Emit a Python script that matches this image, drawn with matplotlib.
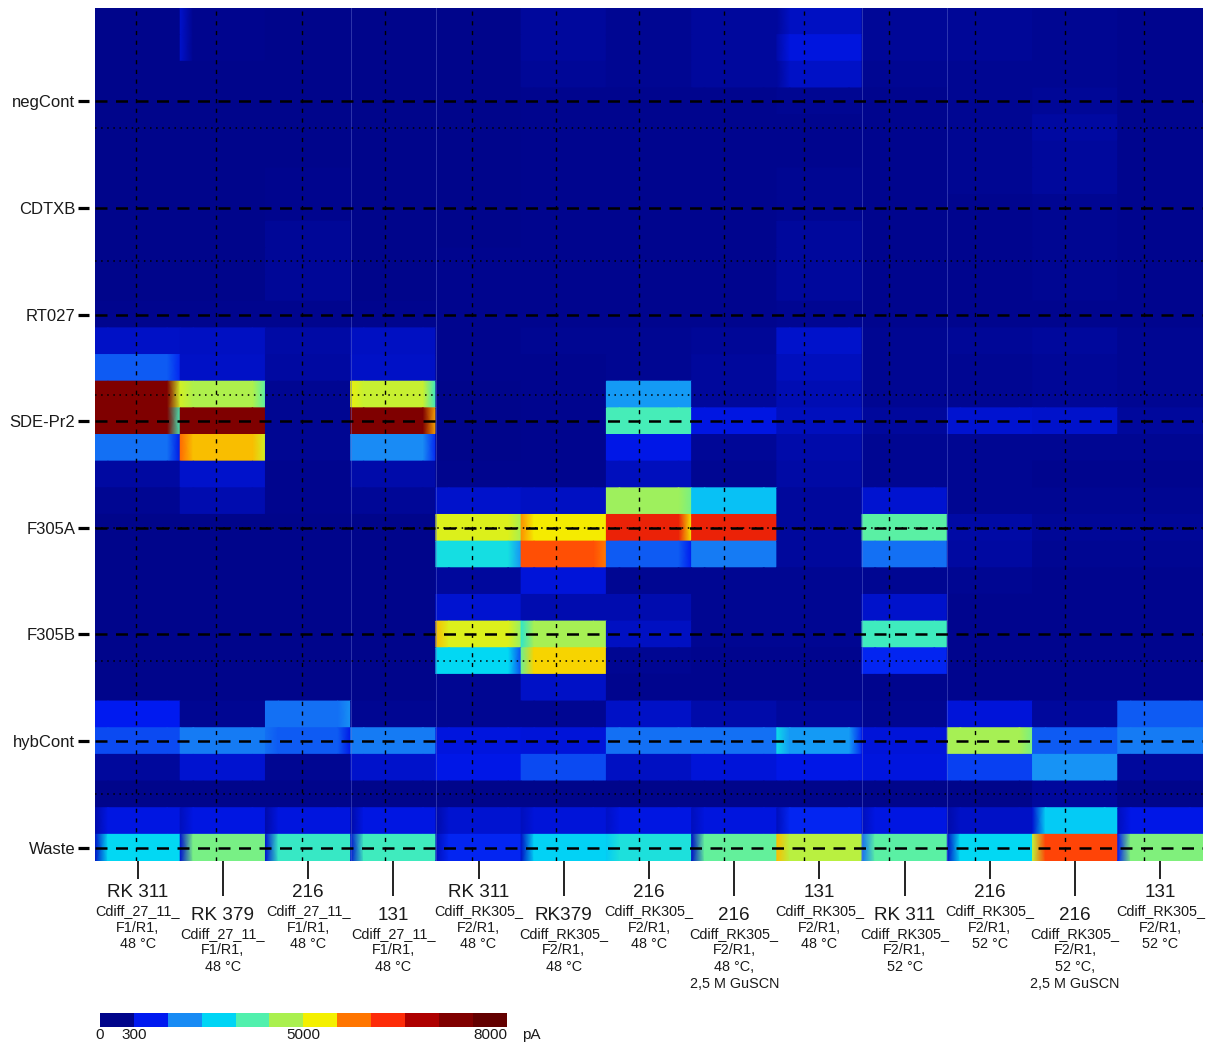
import numpy as np
import matplotlib
matplotlib.use("Agg")
import matplotlib.pyplot as plt
from matplotlib.colors import LinearSegmentedColormap, ListedColormap, FuncNorm
from matplotlib.transforms import blended_transform_factory

plt.rcParams['font.family'] = ['Liberation Sans', 'DejaVu Sans']

# ---------------- data ----------------
row_labels = ["negCont", "CDTXB", "RT027", "SDE-Pr2", "F305A", "F305B", "hybCont", "Waste"]
row_label_rows = [3, 7, 11, 15, 19, 23, 27, 31]
sep_rows = [4, 9, 14, 19, 24, 29]

strains = ["RK 311", "RK 379", "216", "131", "RK 311", "RK379", "216",
           "216", "131", "RK 311", "216", "216", "131"]
conditions = [
    "Cdiff_27_11_\nF1/R1,\n48 °C",
    "Cdiff_27_11_\nF1/R1,\n48 °C",
    "Cdiff_27_11_\nF1/R1,\n48 °C",
    "Cdiff_27_11_\nF1/R1,\n48 °C",
    "Cdiff_RK305_\nF2/R1,\n48 °C",
    "Cdiff_RK305_\nF2/R1,\n48 °C",
    "Cdiff_RK305_\nF2/R1,\n48 °C",
    "Cdiff_RK305_\nF2/R1,\n48 °C,\n2,5 M GuSCN",
    "Cdiff_RK305_\nF2/R1,\n48 °C",
    "Cdiff_RK305_\nF2/R1,\n52 °C",
    "Cdiff_RK305_\nF2/R1,\n52 °C",
    "Cdiff_RK305_\nF2/R1,\n52 °C,\n2,5 M GuSCN",
    "Cdiff_RK305_\nF2/R1,\n52 °C",
]

# signal (pA), 32 spot rows x 13 experiments
signal = [
    [150, 160, 150, 150, 150, 200, 175, 210, 330, 190, 190, 175, 165],
    [150, 160, 150, 150, 150, 200, 175, 210, 600, 190, 190, 175, 165],
    [150, 150, 150, 150, 150, 185, 170, 200, 380, 175, 175, 170, 165],
    [150, 150, 150, 150, 150, 160, 160, 165, 170, 160, 170, 185, 160],
    [150, 150, 150, 150, 150, 160, 160, 160, 160, 160, 170, 220, 160],
    [150, 150, 150, 150, 150, 160, 160, 160, 160, 160, 175, 210, 160],
    [150, 150, 155, 150, 150, 160, 160, 160, 170, 160, 175, 210, 160],
    [150, 150, 160, 150, 150, 160, 160, 160, 180, 160, 160, 170, 160],
    [150, 150, 190, 150, 150, 160, 160, 160, 200, 160, 160, 170, 160],
    [150, 150, 190, 150, 155, 160, 160, 160, 200, 160, 160, 170, 160],
    [150, 150, 190, 150, 155, 160, 160, 160, 200, 160, 160, 170, 160],
    [155, 155, 160, 155, 155, 160, 160, 160, 175, 160, 160, 160, 160],
    [380, 360, 230, 330, 160, 175, 175, 190, 420, 175, 190, 210, 175],
    [1300, 380, 220, 380, 160, 165, 175, 210, 320, 175, 175, 190, 175],
    [7500, 4600, 180, 4900, 150, 165, 1900, 210, 280, 175, 175, 190, 175],
    [7500, 7500, 180, 7500, 150, 165, 3500, 650, 300, 200, 500, 420, 200],
    [1500, 5500, 180, 1700, 150, 165, 700, 190, 250, 175, 175, 175, 175],
    [220, 450, 165, 250, 155, 165, 300, 175, 230, 170, 170, 165, 165],
    [180, 260, 160, 190, 450, 350, 4400, 2400, 200, 500, 175, 175, 175],
    [150, 150, 150, 150, 5100, 5300, 6500, 6500, 200, 3700, 230, 190, 190],
    [150, 150, 150, 150, 2900, 6100, 1300, 1600, 200, 1500, 220, 180, 180],
    [150, 150, 150, 150, 200, 550, 180, 170, 170, 170, 170, 165, 165],
    [150, 150, 150, 150, 500, 260, 260, 170, 170, 450, 165, 165, 165],
    [150, 150, 150, 150, 5100, 4500, 330, 170, 170, 3400, 165, 165, 165],
    [150, 150, 150, 150, 2700, 5400, 180, 160, 160, 900, 160, 160, 160],
    [150, 150, 150, 150, 175, 400, 160, 160, 160, 160, 160, 160, 160],
    [800, 170, 1500, 180, 170, 170, 380, 240, 200, 170, 550, 200, 1300],
    [1200, 1600, 1300, 1600, 600, 550, 1500, 1500, 1900, 550, 4500, 1300, 1600],
    [210, 500, 170, 450, 700, 1200, 330, 550, 700, 600, 1100, 1800, 200],
    [150, 150, 150, 150, 150, 150, 150, 150, 150, 150, 150, 200, 150],
    [650, 650, 600, 650, 500, 550, 650, 600, 900, 650, 400, 2500, 700],
    [2700, 4000, 3300, 3400, 900, 2600, 3000, 3800, 4700, 3700, 2700, 6200, 4100],
]

# signal at the left / right edge of a spot where it differs from the spot body
edge_values = {
    (0, 1): (420, None), (1, 1): (420, None), (0, 8): (200, None), (1, 8): (250, None),
    (2, 8): (200, None),
    (13, 0): (None, 900),
    (14, 0): (None, 5000), (15, 0): (None, 3500),
    (14, 1): (5000, 3700), (14, 3): (5200, 3300), (15, 3): (None, 5600),
    (16, 0): (None, 700), (16, 1): (5900, 5000), (16, 3): (None, 900),
    (18, 6): (None, 4000),
    (19, 4): (None, 4500), (19, 5): (5700, None), (19, 6): (None, 5300),
    (20, 4): (None, 1800), (20, 5): (None, 5800), (20, 6): (None, 800),
    (23, 4): (5500, 4300), (23, 5): (3200, None),
    (24, 4): (None, 1200), (24, 5): (3900, None),
    (26, 2): (None, 1800), (27, 2): (1500, 700), (27, 8): (2800, 900), (27, 10): (None, 4000),
    (30, 0): (250, None), (30, 1): (300, None), (30, 2): (250, None), (30, 3): (250, None),
    (30, 4): (250, None), (30, 5): (300, None), (30, 6): (400, None), (30, 7): (300, None),
    (30, 8): (300, None), (30, 9): (300, None), (30, 10): (250, None), (30, 11): (500, None),
    (30, 12): (300, None),
    (31, 0): (400, None), (31, 1): (500, None), (31, 2): (500, None), (31, 3): (500, None),
    (31, 4): (300, None), (31, 5): (400, None), (31, 6): (2500, None), (31, 7): (400, None),
    (31, 8): (5500, None), (31, 9): (1500, None), (31, 10): (400, None), (31, 11): (4800, None),
    (31, 12): (800, None),
}

cbar_ticks = [0, 300, 5000, 8000]

# ---------------- colour scale ----------------
norm_x = [0, 300, 5000, 8000, 8600]
norm_p = [0, 1 / 12, 6 / 12, 11.5 / 12, 1]
fwd = lambda v: np.interp(v, norm_x, norm_p)
inv = lambda p: np.interp(p, norm_p, norm_x)
norm = FuncNorm((fwd, inv), vmin=0, vmax=8600)

anchor_cols = [(0, 0, 115), (0, 5, 140), (0, 25, 240), (25, 140, 245), (0, 215, 245),
               (80, 240, 175), (170, 240, 80), (245, 240, 0), (255, 120, 0), (255, 45, 10),
               (175, 0, 0), (130, 0, 0), (100, 0, 0), (90, 0, 0)]
anchor_pos = [0] + [(i + 0.5) / 12 for i in range(12)] + [1]
cmap = LinearSegmentedColormap.from_list(
    "chip", list(zip(anchor_pos, [tuple(ch / 255 for ch in c) for c in anchor_cols])))

# ---------------- figure ----------------
W, H = 1208, 1043
fx = lambda px: px / W
fy = lambda py: 1 - py / H
fig = plt.figure(figsize=(W / 100, H / 100), dpi=100)
ax = fig.add_axes([fx(95), fy(861), fx(1203) - fx(95), fy(8) - fy(861)])

Z = np.array(signal, float)
nr, nc = Z.shape
xf = np.array([0.0, 0.15, 0.85, 1.0])
X = np.concatenate([c + xf for c in range(nc)])
Y = np.repeat(np.arange(nr), 2) + np.tile([0, 1], nr)
V = np.zeros((2 * nr, 4 * nc))
for r in range(nr):
    for c in range(nc):
        body = Z[r, c]
        le, ri = edge_values.get((r, c), (None, None))
        V[2 * r:2 * r + 2, 4 * c:4 * c + 4] = [body if le is None else le, body, body,
                                               body if ri is None else ri]
XX, YY = np.meshgrid(X, Y)
ax.pcolormesh(XX, YY, V, shading='gouraud', cmap=cmap, norm=norm, zorder=1)
ax.set_xlim(0, nc)
ax.set_ylim(nr, 0)

# experiment separators
for b in [3, 4, 9, 10]:
    ax.axvline(b, color='#6670d0', lw=0.7, alpha=0.45, zorder=2)

# grid lines
for r in row_label_rows:
    ax.axhline(r + 0.5, color='k', lw=1.8, dashes=(4.8, 3.4), zorder=4)
for r in sep_rows:
    ax.axhline(r + 0.5, color='k', lw=1.1, dashes=(1, 3), zorder=3)
vline_pos = [0.48, 1.42, 2.43, 3.40, 4.42, 5.41, 6.38, 7.38, 8.32, 9.32, 10.33, 11.38, 12.31]
for xv in vline_pos:
    ax.axvline(xv, color='k', lw=1.0, dashes=(3, 4), zorder=3)

for s in ax.spines.values():
    s.set_color('none')
ax.spines['left'].set_position(('outward', 4.3))

ax.set_yticks([r + 0.5 for r in row_label_rows])
ax.set_yticklabels(row_labels, fontsize=12, color='#1a1a1a')
ax.tick_params(axis='y', length=8, width=2.3, pad=2, color='k')

ax.set_xticks([c + 0.5 for c in range(0, nc, 2)])
ax.set_xticks([c + 0.5 for c in range(1, nc, 2)], minor=True)
ax.tick_params(axis='x', which='major', length=13, width=1.4, color='#222222', labelbottom=False)
ax.tick_params(axis='x', which='minor', length=25, width=1.4, color='#222222', labelbottom=False)

trans = blended_transform_factory(ax.transData, fig.transFigure)
for c in range(nc):
    tb = 920 if c % 2 else 897
    ax.text(c + 0.5, fy(tb), strains[c], transform=trans, ha='center', va='baseline',
            fontsize=13.6, color='#1a1a1a')
    for i, line in enumerate(conditions[c].split('\n')):
        ax.text(c + 0.5, fy(tb + 18 + 16.5 * i), line, transform=trans, ha='center',
                va='baseline', fontsize=10.4, color='#1a1a1a')

# colour bar
cax = fig.add_axes([fx(100), fy(1027), fx(507) - fx(100), fy(1013) - fy(1027)])
block_colors = cmap((np.arange(12) + 0.5) / 12)
cax.imshow(np.arange(12)[None, :], cmap=ListedColormap(block_colors), aspect='auto',
           extent=[0, 1, 0, 1], interpolation='nearest')
cax.set_xlim(0, 1)
cax.axis('off')
for v in cbar_ticks:
    cax.text(float(fwd(v)), -0.6, str(v), transform=cax.transAxes, ha='center', va='center',
             fontsize=11, color='#1a1a1a')
cax.text(1.06, -0.6, "pA", transform=cax.transAxes, ha='center', va='center',
         fontsize=11, color='#1a1a1a')

fig.savefig("out.png", dpi=100)
